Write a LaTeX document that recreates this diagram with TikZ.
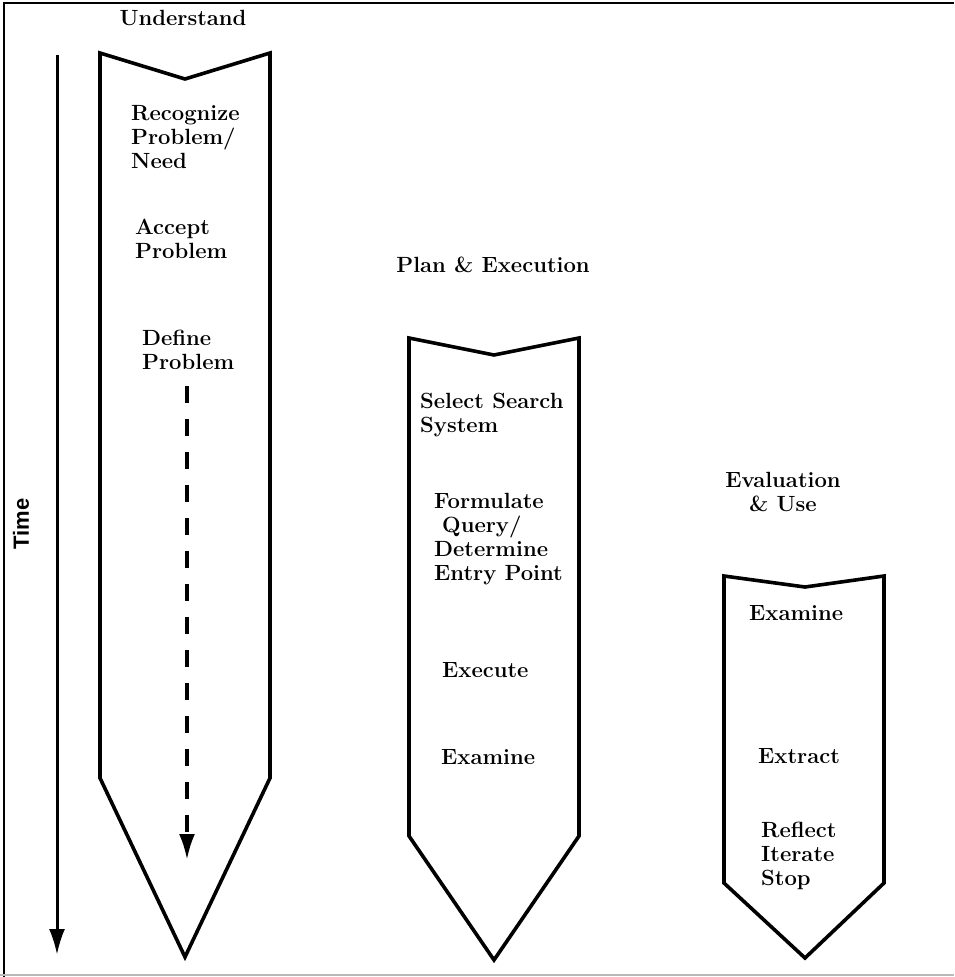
\documentclass[tikz,border=0pt]{standalone}
\usepackage{fontspec}
\newfontfamily\timefont{Liberation Sans}
\usetikzlibrary{arrows.meta}

\begin{document}
\begin{tikzpicture}[x=1pt,y=-1pt,
  phase/.style={line width=3.6pt,line join=miter},
  lbl/.style={font=\fontsize{22}{24}\selectfont\bfseries,inner sep=0pt,align=left,anchor=north west},
  head/.style={font=\fontsize{22}{23.8}\selectfont\bfseries,inner sep=0pt,align=center}]
\useasboundingbox (0,0) rectangle (954,977);
\draw[line width=1.6pt] (4,977) -- (4,3) -- (954,3);
\draw[gray!55,line width=1.4pt] (0,975) -- (954,975);

% time axis
\coordinate (t0) at (57,55);
\coordinate (t1) at (57,955);
\draw[line width=3pt,-{Latex[length=26pt,width=16pt]}] (t0) -- (t1);
\node[font=\timefont\fontsize{22}{24}\selectfont\bfseries,rotate=90] (time) at (21,524) {Time};

% the three phases
\foreach \l/\r/\t/\n/\b/\p/\c in {100/270/53/79/778/957/185, 409/579/338/355/836/960/494, 724/884/576/587/883/958/805}
  \draw[phase] (\l,\t) -- (\c,\n) -- (\r,\t) -- (\r,\b) -- (\c,\p) -- (\l,\b) -- cycle;

% understand
\node[head] (understand) at (183,18) {Understand};
\node[lbl] (recognize) at (131,105) {Recognize\\Problem/\\Need};
\node[lbl] (accept) at (135,219) {Accept\\Problem};
\node[lbl] (define) at (142,330) {Define\\Problem};
\coordinate (d0) at (187,386);
\coordinate (d1) at (187,860);
\draw[line width=3.6pt,dash pattern=on 17pt off 16pt,-{Latex[length=26pt,width=16pt]}] (d0) -- (d1);

% plan & execution
\node[head] (plan) at (493,265) {Plan \& Execution};
\node[lbl] (select) at (420,393) {Select Search\\System};
\node[lbl] (formulate) at (434,493) {Formulate\\\hspace*{8pt}Query/\\Determine\\Entry Point};
\node[lbl] (execute) at (442,662) {Execute};
\node[lbl] (examineA) at (441,749) {Examine};

% evaluation & use
\node[head] (evaluation) at (783,492) {Evaluation\\\& Use};
\node[lbl] (examineB) at (749,605) {Examine};
\node[lbl] (extract) at (758,748) {Extract};
\node[lbl] (reflect) at (761,822) {Reflect\\Iterate\\Stop};
\end{tikzpicture}
\end{document}
